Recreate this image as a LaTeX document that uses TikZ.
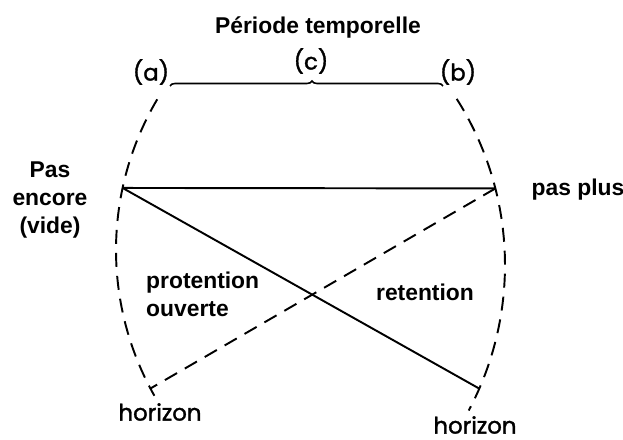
\documentclass[tikz,border=0pt]{standalone}
\usepackage{fontspec}
\setmainfont{Liberation Sans}
\newfontfamily\geofont[FakeBold=1.5]{Poppins}
\usetikzlibrary{calc,decorations.pathreplacing}
\begin{document}
\begin{tikzpicture}[
    lbl/.style={font=\fontsize{13}{15.9}\selectfont\bfseries, align=center},
    geolbl/.style={font=\geofont\fontsize{13}{16}\selectfont},
    dsh/.style={line width=1.1pt, dash pattern=on 0.28cm off 0.18cm},
    sld/.style={line width=1.1pt}]
    \useasboundingbox (0,0) rectangle (12.46,8.8);
    % centres of the two arcs
    \coordinate (lc) at (8.24,3.8);
    \coordinate (rc) at (3.9,3.5);
    \coordinate (A) at ($(lc)+(167.9:5.92)$);
    \coordinate (D) at ($(lc)+(207.9:5.92)$);
    \coordinate (B) at ($(rc)+(14.3:6.2)$);
    \coordinate (C) at ($(rc)+(-23.5:6.2)$);
    % Top: period
    \node[lbl] (title) at (6.36,8.26) {Période temporelle};
    \node[geolbl] (a) at (3.02,7.36) {(a)};
    \node[geolbl] (c) at (6.22,7.58) {(c)};
    \node[geolbl] (b) at (9.16,7.36) {(b)};
    \coordinate (br1) at (3.4,7.08);
    \coordinate (br2) at (8.86,7.08);
    \draw[line width=0.9pt, decorate, decoration={brace, amplitude=0.1cm, aspect=0.52}] (br1) -- (br2);
    % Arcs
    \draw[dsh] ($(lc)+(149.4:5.92)$) arc[start angle=149.4, end angle=209.5, radius=5.92];
    \draw[dsh] ($(rc)+(32.4:6.2)$) arc[start angle=32.4, end angle=-28, radius=6.2];
    % Lines
    \draw[sld] (A) -- (B);
    \draw[sld] (A) -- (C);
    \draw[dsh] (B) -- (D);
    % Labels
    \node[lbl] (notyet) at (1.0,4.8) {Pas\\encore\\(vide)};
    \node[lbl] (nomore) at (11.56,5.0) {pas plus};
    \node[lbl, align=left, anchor=west] (prot) at (2.8,2.92) {protention\\ouverte};
    \node[lbl] (ret) at (8.5,2.96) {retention};
    \node[geolbl] (hl) at (3.2,0.56) {horizon};
    \node[geolbl] (hr) at (9.5,0.3) {horizon};
\end{tikzpicture}
\end{document}
